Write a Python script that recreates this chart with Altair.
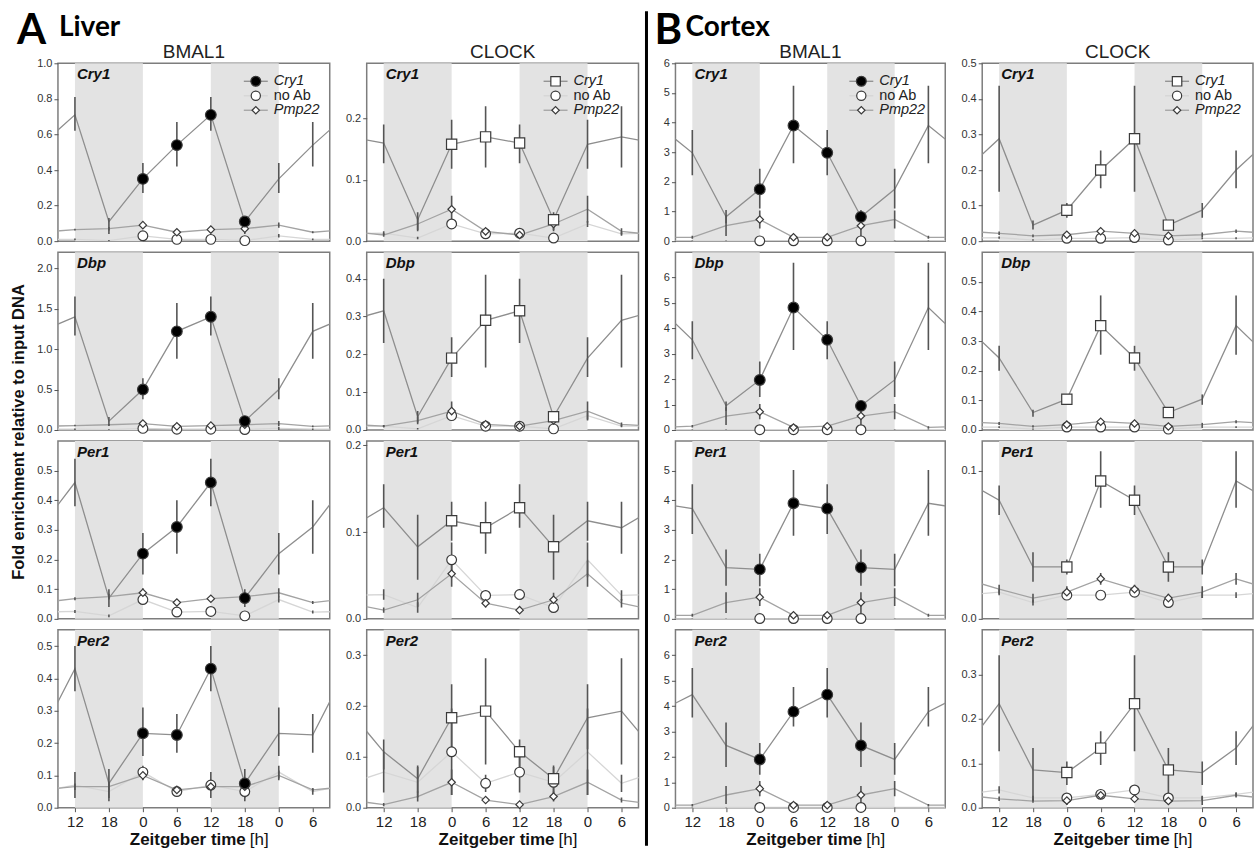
import json
import altair as alt
import pandas as pd

# ---------------- data (values at ZT 0, 6, 12, 18) ----------------
ZT_LABELS = ["12", "18", "0", "6", "12", "18", "0", "6"]
GENE_NAMES = ["Cry1", "Dbp", "Per1", "Per2"]
ANTIBODIES = ["BMAL1", "CLOCK", "BMAL1", "CLOCK"]
DARK_PHASES = [(0, 2), (4, 6)]  # tick-index spans of the dark phase (ZT12-24)

# Liver, BMAL1
LIVER_BMAL1_MEAN = [[0.35, 0.54, 0.71, 0.11], [0.50, 1.22, 1.40, 0.11],
                    [0.22, 0.31, 0.46, 0.07], [0.23, 0.225, 0.43, 0.075]]
LIVER_BMAL1_LO = [[0.27, 0.42, 0.62, 0.04], [0.38, 0.88, 1.17, 0.05],
                  [0.15, 0.22, 0.38, 0.04], [0.16, 0.17, 0.36, 0.03]]
LIVER_BMAL1_HI = [[0.44, 0.67, 0.81, 0.13], [0.64, 1.57, 1.65, 0.16],
                  [0.29, 0.40, 0.54, 0.10], [0.31, 0.29, 0.50, 0.12]]
LIVER_BMAL1_NOAB = [[0.03, 0.01, 0.01, 0.003], [0.02, 0.01, 0.01, 0.005],
                    [0.065, 0.023, 0.025, 0.01], [0.11, 0.05, 0.07, 0.05]]
LIVER_BMAL1_NOAB_ERR = [[0.01, 0.005, 0.005, 0.003], [0.02, 0.01, 0.01, 0.005],
                        [0.01, 0.005, 0.005, 0.005], [0.02, 0.01, 0.04, 0.03]]
LIVER_BMAL1_PMP = [[0.09, 0.05, 0.065, 0.07], [0.08, 0.045, 0.055, 0.065],
                   [0.088, 0.055, 0.068, 0.075], [0.10, 0.055, 0.065, 0.065]]
LIVER_BMAL1_PMP_ERR = [[0.015, 0.005, 0.005, 0.01], [0.03, 0.01, 0.01, 0.01],
                       [0.015, 0.005, 0.005, 0.01], [0.015, 0.005, 0.01, 0.01]]
LIVER_BMAL1_YMAX = [1.0, 2.2, 0.6, 0.55]
LIVER_BMAL1_TICKS = [[0, 0.2, 0.4, 0.6, 0.8, 1.0], [0, 0.5, 1.0, 1.5, 2.0],
                     [0, 0.1, 0.2, 0.3, 0.4, 0.5], [0, 0.1, 0.2, 0.3, 0.4, 0.5]]

# Liver, CLOCK
LIVER_CLOCK_MEAN = [[0.158, 0.17, 0.16, 0.035], [0.19, 0.29, 0.315, 0.035],
                    [0.113, 0.105, 0.128, 0.083], [0.177, 0.19, 0.11, 0.057]]
LIVER_CLOCK_LO = [[0.118, 0.12, 0.127, 0.016], [0.14, 0.165, 0.23, 0.02],
                  [0.09, 0.075, 0.105, 0.045], [0.115, 0.085, 0.075, 0.03]]
LIVER_CLOCK_HI = [[0.198, 0.22, 0.19, 0.047], [0.245, 0.41, 0.40, 0.05],
                  [0.135, 0.135, 0.155, 0.12], [0.243, 0.294, 0.134, 0.083]]
LIVER_CLOCK_NOAB = [[0.028, 0.012, 0.013, 0.005], [0.038, 0.01, 0.01, 0.003],
                    [0.068, 0.027, 0.028, 0.013], [0.11, 0.048, 0.07, 0.05]]
LIVER_CLOCK_NOAB_ERR = [[0.005, 0.003, 0.003, 0.002], [0.01, 0.003, 0.003, 0.002],
                        [0.02, 0.006, 0.006, 0.006], [0.085, 0.017, 0.04, 0.03]]
LIVER_CLOCK_PMP = [[0.052, 0.016, 0.01, 0.028], [0.05, 0.015, 0.01, 0.025],
                   [0.052, 0.018, 0.01, 0.022], [0.05, 0.015, 0.006, 0.022]]
LIVER_CLOCK_PMP_ERR = [[0.022, 0.005, 0.003, 0.01], [0.025, 0.005, 0.003, 0.01],
                       [0.015, 0.005, 0.003, 0.008], [0.025, 0.005, 0.003, 0.01]]
LIVER_CLOCK_YMAX = [0.29, 0.47, 0.205, 0.35]
LIVER_CLOCK_TICKS = [[0, 0.1, 0.2], [0, 0.1, 0.2, 0.3, 0.4],
                     [0, 0.1, 0.2], [0, 0.1, 0.2, 0.3]]

# Cortex, BMAL1
CORTEX_BMAL1_MEAN = [[1.75, 3.9, 2.98, 0.82], [1.97, 4.82, 3.55, 0.95],
                     [1.67, 3.9, 3.72, 1.73], [1.9, 3.78, 4.45, 2.45]]
CORTEX_BMAL1_LO = [[1.1, 2.63, 2.22, 0.6], [1.3, 3.15, 2.78, 0.75],
                   [1.1, 2.8, 2.86, 1.12], [1.3, 3.2, 3.55, 1.6]]
CORTEX_BMAL1_HI = [[2.44, 5.24, 3.75, 1.05], [2.7, 6.58, 4.28, 1.12],
                   [2.2, 5.02, 4.54, 2.34], [2.55, 4.75, 5.5, 3.35]]
CORTEX_BMAL1_NOAB = [[0.01, 0.01, 0.01, 0.01], [0.01, 0.01, 0.01, 0.01],
                     [0.01, 0.01, 0.01, 0.01], [0.01, 0.01, 0.01, 0.01]]
CORTEX_BMAL1_NOAB_ERR = [[0.01, 0.01, 0.01, 0.01], [0.01, 0.01, 0.01, 0.01],
                         [0.01, 0.01, 0.01, 0.01], [0.01, 0.01, 0.01, 0.01]]
CORTEX_BMAL1_PMP = [[0.73, 0.13, 0.13, 0.52], [0.72, 0.1, 0.15, 0.55],
                    [0.73, 0.12, 0.12, 0.55], [0.75, 0.1, 0.1, 0.5]]
CORTEX_BMAL1_PMP_ERR = [[0.3, 0.05, 0.05, 0.35], [0.3, 0.05, 0.05, 0.35],
                        [0.3, 0.05, 0.05, 0.35], [0.3, 0.05, 0.05, 0.35]]
CORTEX_BMAL1_YMAX = [6, 7, 6, 7]
CORTEX_BMAL1_TICKS = [[0, 1, 2, 3, 4, 5, 6], [0, 1, 2, 3, 4, 5, 6],
                      [0, 1, 2, 3, 4, 5], [0, 1, 2, 3, 4, 5, 6]]

# Cortex, CLOCK
CORTEX_CLOCK_MEAN = [[0.087, 0.2, 0.288, 0.045], [0.104, 0.352, 0.243, 0.059],
                     [0.035, 0.093, 0.08, 0.035], [0.079, 0.134, 0.234, 0.085]]
CORTEX_CLOCK_LO = [[0.066, 0.149, 0.139, 0.033], [0.085, 0.254, 0.2, 0.045],
                   [0.03, 0.075, 0.07, 0.025], [0.051, 0.096, 0.127, 0.015]]
CORTEX_CLOCK_HI = [[0.107, 0.255, 0.437, 0.058], [0.12, 0.454, 0.284, 0.068],
                   [0.04, 0.113, 0.09, 0.045], [0.104, 0.172, 0.343, 0.134]]
CORTEX_CLOCK_NOAB = [[0.008, 0.008, 0.01, 0.003], [0.01, 0.01, 0.01, 0.003],
                     [0.016, 0.016, 0.018, 0.011], [0.022, 0.03, 0.04, 0.022]]
CORTEX_CLOCK_NOAB_ERR = [[0.003, 0.003, 0.003, 0.002], [0.003, 0.003, 0.003, 0.002],
                         [0.002, 0.002, 0.002, 0.002], [0.005, 0.005, 0.008, 0.005]]
CORTEX_CLOCK_PMP = [[0.018, 0.028, 0.022, 0.015], [0.018, 0.028, 0.022, 0.012],
                    [0.018, 0.027, 0.02, 0.014], [0.016, 0.028, 0.02, 0.015]]
CORTEX_CLOCK_PMP_ERR = [[0.006, 0.005, 0.005, 0.004], [0.006, 0.005, 0.005, 0.004],
                        [0.004, 0.004, 0.003, 0.003], [0.01, 0.005, 0.005, 0.004]]
CORTEX_CLOCK_YMAX = [0.5, 0.6, 0.12, 0.4]
CORTEX_CLOCK_TICKS = [[0, 0.1, 0.2, 0.3, 0.4, 0.5], [0, 0.1, 0.2, 0.3, 0.4, 0.5],
                      [0, 0.1], [0, 0.1, 0.2, 0.3]]

COLUMNS = [
    dict(mean=LIVER_BMAL1_MEAN, lo=LIVER_BMAL1_LO, hi=LIVER_BMAL1_HI,
         noab=LIVER_BMAL1_NOAB, noab_err=LIVER_BMAL1_NOAB_ERR,
         pmp=LIVER_BMAL1_PMP, pmp_err=LIVER_BMAL1_PMP_ERR,
         ymax=LIVER_BMAL1_YMAX, ticks=LIVER_BMAL1_TICKS, fmt=".1f"),
    dict(mean=LIVER_CLOCK_MEAN, lo=LIVER_CLOCK_LO, hi=LIVER_CLOCK_HI,
         noab=LIVER_CLOCK_NOAB, noab_err=LIVER_CLOCK_NOAB_ERR,
         pmp=LIVER_CLOCK_PMP, pmp_err=LIVER_CLOCK_PMP_ERR,
         ymax=LIVER_CLOCK_YMAX, ticks=LIVER_CLOCK_TICKS, fmt=".1f"),
    dict(mean=CORTEX_BMAL1_MEAN, lo=CORTEX_BMAL1_LO, hi=CORTEX_BMAL1_HI,
         noab=CORTEX_BMAL1_NOAB, noab_err=CORTEX_BMAL1_NOAB_ERR,
         pmp=CORTEX_BMAL1_PMP, pmp_err=CORTEX_BMAL1_PMP_ERR,
         ymax=CORTEX_BMAL1_YMAX, ticks=CORTEX_BMAL1_TICKS, fmt="d"),
    dict(mean=CORTEX_CLOCK_MEAN, lo=CORTEX_CLOCK_LO, hi=CORTEX_CLOCK_HI,
         noab=CORTEX_CLOCK_NOAB, noab_err=CORTEX_CLOCK_NOAB_ERR,
         pmp=CORTEX_CLOCK_PMP, pmp_err=CORTEX_CLOCK_PMP_ERR,
         ymax=CORTEX_CLOCK_YMAX, ticks=CORTEX_CLOCK_TICKS, fmt=".1f"),
]

# ---------------- style / layout ----------------
PANEL_W = [272, 272, 270, 271]
PANEL_H = 178
COL_SPACING = 37
ROW_SPACING = 11
LEG_SYM_X = [198, 189, 186, 195]
FONT = "Liberation Sans"
HEAD_FONT = "Lato"
MAIN_LINE = "#8e8e8e"
PMP_LINE = "#a3a3a3"
NOAB_LINE = "#d6d6d6"
ERR_COLOR = "#555555"
SHADE = "#e3e3e3"
MARK_STROKE = "#3a3a3a"


def periodic(vals, positions):
    # tick index p shows ZT label ZT_LABELS[p]; values are listed for ZT 0,6,12,18
    return [vals[(p + 2) % 4] for p in positions]


def text_layer(txt, x, y, size, weight="normal", style="normal", align="left",
               baseline="alphabetic", font=FONT, angle=0, color="#111111"):
    return alt.Chart(pd.DataFrame({"t": [txt]})).mark_text(
        align=align, baseline=baseline, font=font, fontSize=size,
        fontWeight=weight, fontStyle=style, angle=angle, color=color
    ).encode(x=alt.value(x), y=alt.value(y), text="t:N")


def make_panel(col, row):
    W, H = PANEL_W[col], PANEL_H
    s = COLUMNS[col]
    mean, lo, hi = s["mean"][row], s["lo"][row], s["hi"][row]
    noab, noab_e = s["noab"][row], s["noab_err"][row]
    pmp, pmp_e = s["pmp"][row], s["pmp_err"][row]

    xscale = alt.Scale(domain=[-0.5, 7.5], nice=False, zero=False)
    yscale = alt.Scale(domain=[0, s["ymax"][row]], nice=False, zero=False)
    if row == 3:
        xaxis = alt.Axis(values=list(range(8)),
                         labelExpr=json.dumps(ZT_LABELS) + "[datum.value]",
                         title=None, grid=False, labelFontSize=15, labelFont=FONT,
                         labelColor="#222222", tickSize=4, tickColor="#555555",
                         domain=False, labelFlush=False, labelPadding=3)
    else:
        xaxis = None
    yaxis = alt.Axis(values=s["ticks"][row], format=s["fmt"], title=None, grid=False,
                     labelFontSize=11, labelFont=FONT, labelColor="#333333",
                     tickSize=4, tickColor="#555555", domain=False,
                     labelPadding=2, labelOverlap=False)

    def X(f):
        return alt.X(f"{f}:Q", scale=xscale, axis=xaxis)

    def Y(f):
        return alt.Y(f"{f}:Q", scale=yscale, axis=yaxis)

    layers = []
    shade_df = pd.DataFrame({"x0": [a for a, b in DARK_PHASES],
                             "x1": [b for a, b in DARK_PHASES]})
    layers.append(alt.Chart(shade_df).mark_rect(color=SHADE).encode(
        x=X("x0"), x2="x1", y=alt.value(0), y2=alt.value(H)))

    line_pos = list(range(-1, 9))
    for vals, color in [(noab, NOAB_LINE), (pmp, PMP_LINE), (mean, MAIN_LINE)]:
        df = pd.DataFrame({"pos": line_pos, "value": periodic(vals, line_pos)})
        layers.append(alt.Chart(df).mark_line(color=color, strokeWidth=1.3, clip=True)
                      .encode(x=X("pos"), y=Y("value")))

    err_pos = list(range(8))
    noab_lo = [max(0, v - e) for v, e in zip(noab, noab_e)]
    noab_hi = [v + e for v, e in zip(noab, noab_e)]
    pmp_lo = [max(0, v - e) for v, e in zip(pmp, pmp_e)]
    pmp_hi = [v + e for v, e in zip(pmp, pmp_e)]
    for l, h in [(noab_lo, noab_hi), (pmp_lo, pmp_hi), (lo, hi)]:
        df = pd.DataFrame({"pos": err_pos, "lo": periodic(l, err_pos),
                           "hi": periodic(h, err_pos)})
        layers.append(alt.Chart(df).mark_rule(color=ERR_COLOR, strokeWidth=1.6, clip=True)
                      .encode(x=X("pos"), y=Y("lo"), y2="hi"))

    is_bmal = ANTIBODIES[col] == "BMAL1"
    main_shape = "circle" if is_bmal else "square"
    main_fill = "#000000" if is_bmal else "#ffffff"
    main_size = 115 if is_bmal else 105
    pt_pos = [2, 3, 4, 5]
    marker_specs = [
        (noab, "circle", "#ffffff", 95),
        (pmp, "diamond", "#ffffff", 55),
        (mean, main_shape, main_fill, main_size),
    ]
    for vals, shape, fill, size in marker_specs:
        df = pd.DataFrame({"pos": pt_pos, "value": vals})
        layers.append(alt.Chart(df).mark_point(
            shape=shape, filled=True, fill=fill, stroke=MARK_STROKE, strokeWidth=1.2,
            size=size, opacity=1).encode(x=X("pos"), y=Y("value")))

    # gene label inside the panel
    layers.append(text_layer(GENE_NAMES[row], 19, 16, 15, weight="bold", style="italic"))

    if row == 0:
        # legend
        sx = LEG_SYM_X[col]
        entries = [
            (GENE_NAMES[0], "italic", MAIN_LINE, main_shape, main_fill, main_size * 0.85),
            ("no Ab", "normal", NOAB_LINE, "circle", "#ffffff", 85),
            ("Pmp22", "italic", PMP_LINE, "diamond", "#ffffff", 55),
        ]
        for i, (lab, style, lcol, shape, fill, size) in enumerate(entries):
            yy = 18 + i * 14.5
            d = pd.DataFrame({"k": [0]})
            layers.append(alt.Chart(d).mark_rule(color=lcol, strokeWidth=1.3).encode(
                x=alt.value(sx - 12), x2=alt.value(sx + 12), y=alt.value(yy)))
            layers.append(alt.Chart(d).mark_point(
                shape=shape, filled=True, fill=fill, stroke=MARK_STROKE, strokeWidth=1.2,
                size=size, opacity=1).encode(x=alt.value(sx), y=alt.value(yy)))
            layers.append(text_layer(lab, sx + 18, yy, 14.5, style=style,
                                     baseline="middle", color="#222222"))
        # column heading
        layers.append(text_layer(ANTIBODIES[col], W / 2, -5, 19, align="center",
                                 color="#222222"))
        if col == 0:
            layers.append(text_layer("A", -41, -19, 42, weight="bold", font=HEAD_FONT,
                                     color="#000000"))
            layers.append(text_layer("Liver", 1, -27, 28, weight="bold", font=HEAD_FONT,
                                     color="#000000"))
            # invisible anchor fixing the page origin
            layers.append(alt.Chart(pd.DataFrame({"k": [0]})).mark_rule(
                opacity=0, strokeWidth=1).encode(
                x=alt.value(-56.5), x2=alt.value(-55.5), y=alt.value(-61.5)))
        if col == 2:
            layers.append(text_layer("B", -21, -19, 42, weight="bold", font=HEAD_FONT,
                                     color="#000000"))
            layers.append(text_layer("Cortex", 10, -27, 28, weight="bold", font=HEAD_FONT,
                                     color="#000000"))
            layers.append(alt.Chart(pd.DataFrame({"k": [0]})).mark_rule(
                color="#000000", strokeWidth=3).encode(
                x=alt.value(-29), y=alt.value(-52), y2=alt.value(783)))

    if row == 1 and col == 0:
        layers.append(text_layer("Fold enrichment relative to input DNA", -39, 180, 16.5,
                                 weight="bold", align="center", baseline="middle",
                                 angle=270))
    if row == 3:
        layers.append(text_layer("Zeitgeber time", W / 2 + 52, 215, 17, weight="bold",
                                 align="right"))
        layers.append(text_layer("[h]", W / 2 + 56, 215, 17, align="left"))

    return alt.layer(*layers).properties(width=W, height=H)


panels = [make_panel(c, r) for r in range(4) for c in range(4)]

chart = alt.concat(
    *panels, columns=4, bounds="flush",
    spacing={"row": ROW_SPACING, "column": COL_SPACING}
).properties(
    padding=0, background="white"
).configure_view(
    stroke="#7d7d7d", strokeWidth=1.5
)

chart.save("out.html", embed_options={"renderer": "svg", "actions": False})
